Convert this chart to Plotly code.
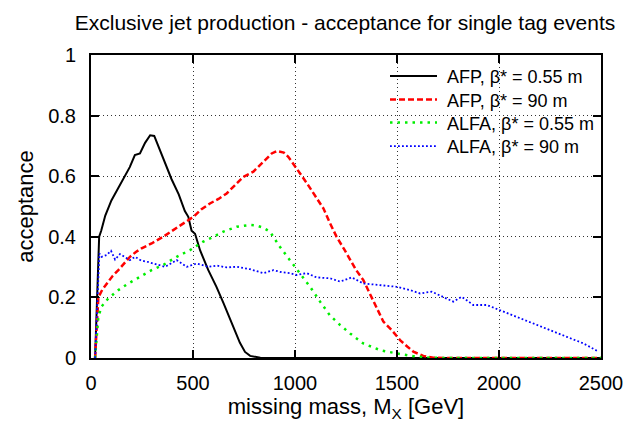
import plotly.graph_objects as go

# Missing mass [GeV] and acceptance for each detector / optics setting
mass_afp_055 = [20, 40, 50, 70, 100, 125, 150, 190, 215, 240,
                265, 290, 310, 330, 360, 395, 430, 460, 477, 493,
                510, 535, 575, 615, 650, 690, 730, 755, 780, 830,
                900, 2500]
acc_afp_055 = [0, 0.40, 0.42, 0.47, 0.52, 0.55, 0.58, 0.63, 0.67, 0.675,
               0.71, 0.735, 0.733, 0.70, 0.645, 0.59, 0.54, 0.485, 0.466, 0.42,
               0.41, 0.355, 0.29, 0.235, 0.18, 0.115, 0.05, 0.02, 0.007, 0.001,
               0, 0]

mass_afp_90 = [20, 36, 55, 77, 105, 134, 160, 191, 220, 248,
               297, 354, 403, 452, 502, 540, 583, 625, 665, 705,
               747, 796, 845, 886, 910, 926, 945, 967, 1000, 1025,
               1060, 1090, 1139, 1172, 1204, 1240, 1270, 1300, 1335, 1384,
               1433, 1474, 1515, 1550, 1580, 1629, 1678, 1750, 2500]
acc_afp_90 = [0, 0.20, 0.225, 0.246, 0.27, 0.29, 0.31, 0.334, 0.35, 0.362,
              0.378, 0.40, 0.422, 0.444, 0.466, 0.49, 0.51, 0.525, 0.543, 0.57,
              0.598, 0.615, 0.648, 0.675, 0.683, 0.681, 0.678, 0.664, 0.635, 0.609,
              0.575, 0.543, 0.494, 0.444, 0.40, 0.36, 0.323, 0.29, 0.257, 0.191,
              0.12, 0.092, 0.059, 0.038, 0.021, 0.007, 0.001, 0, 0]

mass_alfa_055 = [20, 36, 52, 85, 134, 183, 240, 297, 354, 420,
                 485, 550, 600, 649, 714, 779, 812, 845, 877, 926,
                 975, 1025, 1074, 1123, 1172, 1221, 1270, 1335, 1417, 1498,
                 1580, 1662, 1750, 2500]
acc_alfa_055 = [0, 0.136, 0.17, 0.197, 0.224, 0.246, 0.268, 0.29, 0.307, 0.334,
                0.356, 0.384, 0.40, 0.417, 0.433, 0.439, 0.437, 0.43, 0.417, 0.367,
                0.323, 0.28, 0.235, 0.186, 0.14, 0.109, 0.081, 0.048, 0.026, 0.015,
                0.006, 0.001, 0, 0]

mass_alfa_90 = [20, 41, 52, 77, 98, 118, 142, 170, 191, 216,
                245, 273, 320, 363, 420, 469, 518, 575, 616, 665,
                714, 779, 845, 894, 935, 975, 1008, 1057, 1106, 1172,
                1221, 1278, 1335, 1417, 1498, 1564, 1613, 1670, 1727, 1776,
                1817, 1874, 1940, 2005, 2087, 2169, 2250, 2332, 2414, 2450,
                2488]
acc_alfa_90 = [0, 0.345, 0.334, 0.34, 0.354, 0.325, 0.343, 0.33, 0.323, 0.334,
               0.322, 0.318, 0.31, 0.301, 0.323, 0.301, 0.312, 0.301, 0.305, 0.299,
               0.301, 0.293, 0.28, 0.29, 0.283, 0.28, 0.274, 0.28, 0.266, 0.263,
               0.252, 0.266, 0.246, 0.241, 0.235, 0.224, 0.213, 0.219, 0.202, 0.186,
               0.202, 0.175, 0.175, 0.158, 0.136, 0.114, 0.092, 0.07, 0.048, 0.035,
               0.021]

x_ticks = [0, 500, 1000, 1500, 2000, 2500]
y_ticks = [0, 0.2, 0.4, 0.6, 0.8, 1]
y_tick_labels = ["0", "0.2", "0.4", "0.6", "0.8", "1"]

FONT = "Liberation Sans, Arial, sans-serif"
NBSP = "\u00a0"

series = [
    ("AFP, β* = 0.55 m", mass_afp_055, acc_afp_055, "#000000", 2, "solid"),
    ("AFP, β* = 90 m", mass_afp_90, acc_afp_90, "#ff0000", 2.5, "6px,3px"),
    ("ALFA, β* = 0.55 m", mass_alfa_055, acc_alfa_055, "#00ee00", 2.5, "2.5px,5px"),
    ("ALFA, β* = 90 m", mass_alfa_90, acc_alfa_90, "#0000ff", 1.8, "1.8px,2.2px"),
]

# one key box per series, stacked down the upper right corner
legend_names = ["legend", "legend2", "legend3", "legend4"]
legend_rows = [0.930, 0.852, 0.776, 0.698]

fig = go.Figure()
for (name, xs, ys, color, width, dash), lg in zip(series, legend_names):
    fig.add_trace(go.Scatter(
        x=xs, y=ys, mode="lines", name=NBSP + name, legend=lg,
        showlegend=True,
        line=dict(color=color, width=width, dash=dash),
    ))

axis_common = dict(
    showline=True, linecolor="black", linewidth=2, mirror="allticks",
    ticks="inside", ticklen=8, tickwidth=1.5, tickcolor="black",
    showgrid=True, gridcolor="#333333", gridwidth=1, griddash="1px,3px",
    zeroline=False, automargin=False,
    tickfont=dict(family=FONT, size=20, color="black"),
)

legend_layout = {}
for lg, row in zip(legend_names, legend_rows):
    legend_layout[lg] = dict(
        x=(385 - 91) / 510, xanchor="left", y=row, yanchor="middle",
        bgcolor="rgba(0,0,0,0)", borderwidth=0,
        font=dict(family=FONT, size=18, color="black"),
        itemwidth=47, tracegroupgap=0, visible=True,
    )

fig.update_layout(
    width=629, height=423,
    margin=dict(l=91, r=28, t=55, b=65),
    paper_bgcolor="white", plot_bgcolor="white",
    font=dict(family=FONT, color="black"),
    showlegend=True,
    title=dict(
        text="Exclusive jet production - acceptance for single tag events",
        font=dict(family=FONT, size=21, color="black"),
        x=345 / 629, xanchor="center", xref="container",
        y=1 - 23 / 423, yanchor="middle", yref="container",
    ),
    xaxis=dict(
        range=[0, 2500], tickvals=x_ticks,
        title=dict(text="missing mass, M<sub>X</sub> [GeV]",
                   font=dict(family=FONT, size=22), standoff=6),
        ticklabelstandoff=6,
        **axis_common,
    ),
    yaxis=dict(
        range=[0, 1], tickvals=y_ticks, ticktext=y_tick_labels,
        title=dict(text="acceptance", font=dict(family=FONT, size=22), standoff=8),
        ticklabelstandoff=9,
        **axis_common,
    ),
    shapes=[
        # blank out the grid behind the key
        dict(type="rect", xref="paper", yref="paper", layer="between",
             x0=(373 - 91) / 510, x1=1, y0=(358 - 158) / 303, y1=1,
             fillcolor="white", line=dict(width=0)),
    ],
    **legend_layout,
)

fig.write_html("out.html")
